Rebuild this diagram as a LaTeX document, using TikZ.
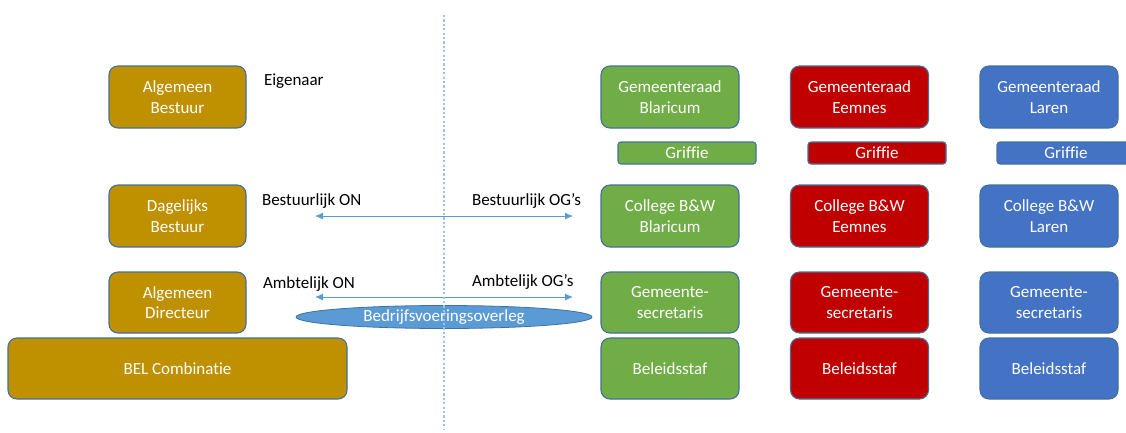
\documentclass[tikz,border=0pt]{standalone}
\usepackage{fontspec}
\setmainfont{Carlito}[Ligatures={NoCommon}]
\usetikzlibrary{shapes.geometric,arrows.meta}
\definecolor{gold}{HTML}{BF9000}
\definecolor{grn}{HTML}{70AD47}
\definecolor{rd}{HTML}{C00000}
\definecolor{blu}{HTML}{4472C4}
\definecolor{bord}{HTML}{41719C}
\definecolor{elfill}{HTML}{5B9BD5}
\definecolor{arr}{HTML}{5B9BD5}
\definecolor{dashc}{HTML}{9DC3E6}
\tikzset{
  box/.style={draw=bord, line width=1.1pt, rounded corners=9pt, text=white,
    align=center, inner sep=0pt, outer sep=0pt,
    font=\fontsize{17}{20.5}\selectfont, minimum width=138pt, minimum height=62pt},
  grif/.style={box, rounded corners=3pt, minimum height=22pt},
  lbl/.style={text=black, inner sep=0pt, outer sep=0pt, font=\fontsize{17}{20.5}\selectfont},
  twoarrow/.style={draw=arr, line width=0.9pt, {Latex[length=8pt,width=7pt]}-{Latex[length=8pt,width=7pt]}},
  divider/.style={draw=dashc, line width=1.4pt, dash pattern=on 2.2pt off 2.2pt}
}
\begin{document}
\begin{tikzpicture}[x=1pt,y=-1pt]
\useasboundingbox (0,0) rectangle (1126,432);
\begin{scope}
\clip (0,0) rectangle (1126,432);
% left column
\node[box, fill=gold, minimum width=137pt] (ab) at (177.5,97) {Algemeen\\Bestuur};
\node[box, fill=gold, minimum width=137pt] (db) at (177.5,216) {Dagelijks\\Bestuur};
\node[box, fill=gold, minimum width=137pt, minimum height=61pt] (ad) at (177.5,302.5) {Algemeen\\Directeur};
\node[box, fill=gold, minimum width=339pt, minimum height=61pt] (bel) at (177.5,368.5) {BEL Combinatie};
% labels
\node[lbl, anchor=west] (eig) at (264,81) {Eigenaar};
\node[lbl, anchor=west] (bon) at (262,201) {Bestuurlijk ON};
\node[lbl, anchor=west] (bog) at (472,201) {Bestuurlijk OG’s};
\node[lbl, anchor=west] (aon) at (263,284) {Ambtelijk ON};
\node[lbl, anchor=west] (aog) at (472,282) {Ambtelijk OG’s};
% arrows
\coordinate (b1) at (315,216);
\coordinate (b2) at (573,216);
\coordinate (a1) at (315,297);
\coordinate (a2) at (573,297);
\draw[twoarrow] (b1) -- (b2);
\draw[twoarrow] (a1) -- (a2);
% ellipse
\node[ellipse, draw=bord, line width=0.8pt, fill=elfill, text=white, inner sep=0pt,
  minimum width=296pt, minimum height=23pt, font=\fontsize{17}{20.5}\selectfont] (bvo) at (444,317) {Bedrijfsvoeringsoverleg};
% green column
\node[box, fill=grn] (grB) at (670,97) {Gemeenteraad\\Blaricum};
\node[grif, fill=grn] (gfB) at (687,153) {Griffie};
\node[box, fill=grn] (cB) at (670,216) {College B\&W\\Blaricum};
\node[box, fill=grn, minimum height=61pt] (sB) at (670,302.5) {Gemeente-\\secretaris};
\node[box, fill=grn, minimum height=61pt] (bB) at (670,368.5) {Beleidsstaf};
% red column
\node[box, fill=rd] (grE) at (859.5,97) {Gemeenteraad\\Eemnes};
\node[grif, fill=rd] (gfE) at (877,153) {Griffie};
\node[box, fill=rd] (cE) at (859.5,216) {College B\&W\\Eemnes};
\node[box, fill=rd, minimum height=61pt] (sE) at (859.5,302.5) {Gemeente-\\secretaris};
\node[box, fill=rd, minimum height=61pt] (bE) at (859.5,368.5) {Beleidsstaf};
% blue column
\node[box, fill=blu] (grL) at (1049,97) {Gemeenteraad\\Laren};
\node[grif, fill=blu] (gfL) at (1066,153) {Griffie};
\node[box, fill=blu] (cL) at (1049,216) {College B\&W\\Laren};
\node[box, fill=blu, minimum height=61pt] (sL) at (1049,302.5) {Gemeente-\\secretaris};
\node[box, fill=blu, minimum height=61pt] (bL) at (1049,368.5) {Beleidsstaf};
% divider
\coordinate (d1) at (444,15);
\coordinate (d2) at (444,430);
\draw[divider] (d1) -- (d2);
\end{scope}
\end{tikzpicture}
\end{document}
